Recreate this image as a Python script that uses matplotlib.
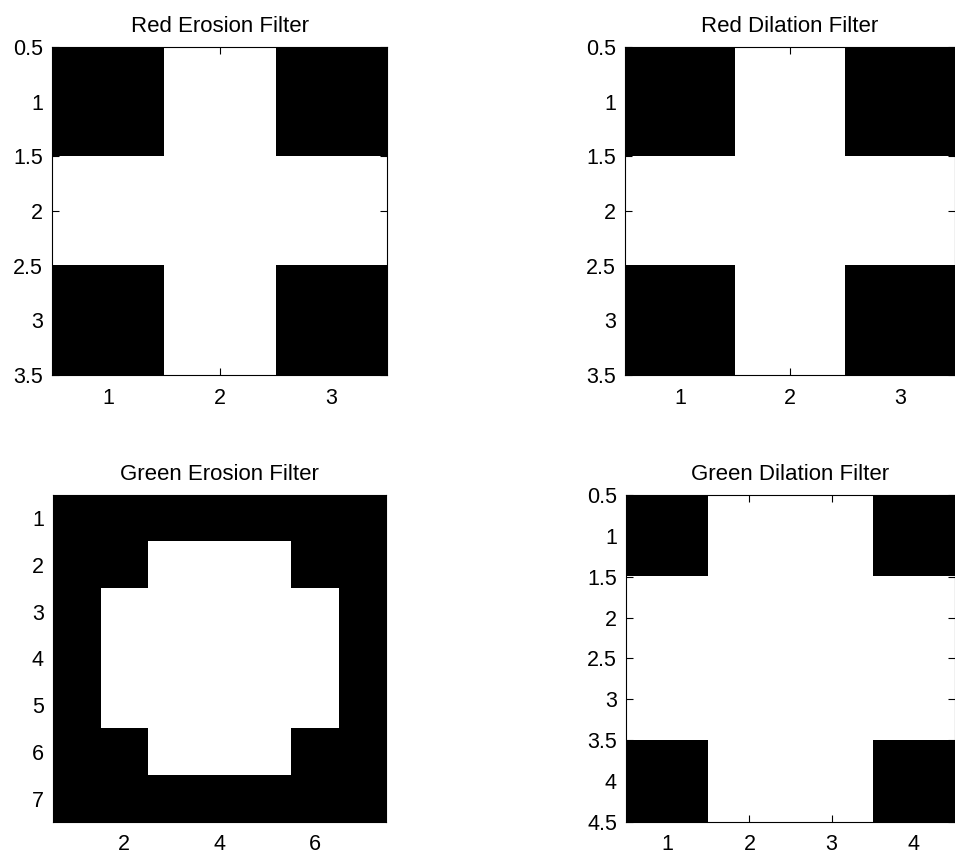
import numpy as np
import matplotlib.pyplot as plt

plt.rcParams['font.family'] = ['Liberation Sans', 'DejaVu Sans']

# binary structuring elements (1 = white, 0 = black)
red_erosion = [[0, 1, 0],
               [1, 1, 1],
               [0, 1, 0]]
red_dilation = [[0, 1, 0],
                [1, 1, 1],
                [0, 1, 0]]
green_erosion = [[0, 0, 0, 0, 0, 0, 0],
                 [0, 0, 1, 1, 1, 0, 0],
                 [0, 1, 1, 1, 1, 1, 0],
                 [0, 1, 1, 1, 1, 1, 0],
                 [0, 1, 1, 1, 1, 1, 0],
                 [0, 0, 1, 1, 1, 0, 0],
                 [0, 0, 0, 0, 0, 0, 0]]
green_dilation = [[0, 1, 1, 0],
                  [1, 1, 1, 1],
                  [1, 1, 1, 1],
                  [0, 1, 1, 0]]

titles = ["Red Erosion Filter", "Red Dilation Filter",
          "Green Erosion Filter", "Green Dilation Filter"]
xticks = [[1, 2, 3], [1, 2, 3], [2, 4, 6], [1, 2, 3, 4]]
yticks = [[0.5, 1, 1.5, 2, 2.5, 3, 3.5], [0.5, 1, 1.5, 2, 2.5, 3, 3.5],
          [1, 2, 3, 4, 5, 6, 7], [0.5, 1, 1.5, 2, 2.5, 3, 3.5, 4, 4.5]]
mats = [red_erosion, red_dilation, green_erosion, green_dilation]

fig = plt.figure(figsize=(9.55, 8.59), dpi=100)
positions = [
    [0.0545, 0.5634, 0.351, 0.3818],
    [0.6545, 0.5634, 0.3455, 0.3818],
    [0.0555, 0.0431, 0.3487, 0.3807],
    [0.6555, 0.0431, 0.3445, 0.3807],
]

for pos, m, t, xt, yt in zip(positions, mats, titles, xticks, yticks):
    ax = fig.add_axes(pos)
    m = np.array(m)
    n = m.shape[0]
    ax.imshow(m, cmap="gray", vmin=0, vmax=1, interpolation="nearest",
              extent=(0.5, n + 0.5, n + 0.5, 0.5), aspect="auto")
    ax.set_xlim(0.5, n + 0.5)
    ax.set_ylim(n + 0.5, 0.5)
    ax.set_xticks(xt)
    ax.set_yticks(yt)
    ax.set_yticklabels([f"{v:g}" for v in yt])
    ax.tick_params(direction="in", top=True, right=True, length=5,
                   width=0.8, labelsize=15.5)
    ax.tick_params(axis="y", pad=6.5)
    ax.tick_params(axis="x", pad=9)
    for s in ax.spines.values():
        s.set_linewidth(0.8)
    ax.set_title(t, fontsize=16, pad=11)

fig.savefig("out.png", dpi=100)
